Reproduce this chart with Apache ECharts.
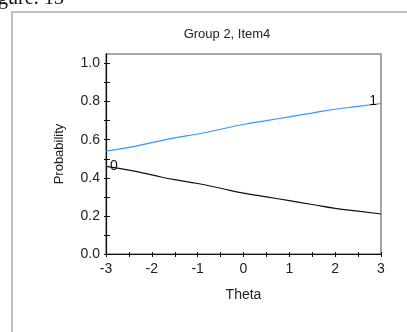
<!DOCTYPE html>
<html>
<head>
<meta charset="utf-8">
<script src="https://cdn.jsdelivr.net/npm/echarts@6/dist/echarts.min.js"></script>
<style>
  html, body { margin: 0; padding: 0; background: #fff; }
  #chart { width: 407px; height: 332px; }
</style>
</head>
<body>
<div id="chart"></div>
<script>
// Item characteristic curves: probability of each response category vs. theta
const theta = [-3, -2.5, -2, -1.5, -1, -0.5, 0, 0.5, 1, 1.5, 2, 2.5, 3];
const category1 = [0.54, 0.56, 0.585, 0.61, 0.63, 0.655, 0.68, 0.70, 0.72, 0.74, 0.76, 0.775, 0.79];
const category0 = [0.46, 0.44, 0.415, 0.39, 0.37, 0.345, 0.32, 0.30, 0.28, 0.26, 0.24, 0.225, 0.21];
const xTicks = [-3, -2.5, -2, -1.5, -1, -0.5, 0, 0.5, 1, 1.5, 2, 2.5, 3];
const xLabels = [-3, -2, -1, 0, 1, 2, 3];
const yTicks = [0, 0.1, 0.2, 0.3, 0.4, 0.5, 0.6, 0.7, 0.8, 0.9, 1.0];
const yLabels = [0, 0.2, 0.4, 0.6, 0.8, 1.0];

const font = 'Liberation Sans, Arial, sans-serif';
const chart = echarts.init(document.getElementById('chart'), null, { renderer: 'canvas' });

const pairs = (ys) => theta.map((t, i) => [t, ys[i]]);

const xBase = { type: 'value', min: -3, max: 3, gridIndex: 0, position: 'bottom' };
const yBase = { type: 'value', min: 0, max: 1.05, gridIndex: 0, position: 'left' };

chart.setOption({
  animation: false,
  backgroundColor: '#fff',
  title: {
    text: 'Group 2, Item4',
    left: 222, top: 23,
    textAlign: 'center',
    textStyle: { fontFamily: font, fontSize: 13, fontWeight: 'normal', color: '#222' }
  },
  grid: {
    left: 106, right: 26, top: 54, bottom: 78,
    show: true, borderColor: '#888', borderWidth: 1.5, backgroundColor: 'transparent'
  },
  xAxis: [
    Object.assign({}, xBase, {
      name: 'Theta', nameLocation: 'middle', nameGap: 34,
      nameTextStyle: { fontFamily: font, fontSize: 14, color: '#222' },
      axisLine: { show: true, onZero: false, lineStyle: { color: '#111', width: 1.2 } },
      axisTick: { show: true, inside: false, length: 3, customValues: xTicks, lineStyle: { color: '#111' } },
      axisLabel: { customValues: xLabels, margin: 8, fontFamily: font, fontSize: 14, color: '#222' },
      splitLine: { show: false }
    }),
    Object.assign({}, xBase, {
      axisLine: { show: false, onZero: false },
      axisTick: { show: true, inside: true, length: 2, customValues: xTicks, lineStyle: { color: '#111' } },
      axisLabel: { show: false },
      splitLine: { show: false }
    })
  ],
  yAxis: [
    Object.assign({}, yBase, {
      name: 'Probability', nameLocation: 'middle', nameGap: 40, nameRotate: 90,
      nameTextStyle: { fontFamily: font, fontSize: 13, color: '#222' },
      axisLine: { show: true, onZero: false, lineStyle: { color: '#111', width: 1.2 } },
      axisTick: { show: true, inside: false, length: 2, customValues: yTicks, lineStyle: { color: '#111' } },
      axisLabel: {
        customValues: yLabels, margin: 6, fontFamily: font, fontSize: 14, color: '#222',
        formatter: (v) => v.toFixed(1)
      },
      splitLine: { show: false }
    }),
    Object.assign({}, yBase, {
      axisLine: { show: false, onZero: false },
      axisTick: { show: true, inside: true, length: 4, customValues: yTicks, lineStyle: { color: '#111' } },
      axisLabel: { show: false },
      splitLine: { show: false }
    })
  ],
  series: [
    {
      type: 'line', name: '1', data: pairs(category1),
      xAxisIndex: 0, yAxisIndex: 0,
      smooth: true, showSymbol: false, symbol: 'none',
      lineStyle: { color: '#3399ff', width: 1.2 },
      markPoint: {
        symbol: 'circle', symbolSize: 0,
        data: [{ coord: [theta[theta.length - 1], category1[category1.length - 1]] }],
        label: {
          show: true, formatter: '1', position: 'left', distance: 4, offset: [0, -2],
          fontFamily: font, fontSize: 14, color: '#111'
        }
      }
    },
    {
      type: 'line', name: '0', data: pairs(category0),
      xAxisIndex: 0, yAxisIndex: 0,
      smooth: true, showSymbol: false, symbol: 'none',
      lineStyle: { color: '#111', width: 1.2 },
      markPoint: {
        symbol: 'circle', symbolSize: 0,
        data: [{ coord: [theta[0], category0[0]] }],
        label: {
          show: true, formatter: '0', position: 'right', distance: 4, offset: [0, 0],
          fontFamily: font, fontSize: 14, color: '#111'
        }
      }
    }
  ],
  graphic: [
    {
      type: 'rect', silent: true, z: -1,
      shape: { x: 12, y: 12, width: 420, height: 340 },
      style: { fill: 'none', stroke: '#aaa', lineWidth: 1.5 }
    },
    {
      type: 'text', silent: true, left: -2, top: -11,
      style: { text: 'gure: 13', font: '20px "Liberation Serif", serif', fill: '#111' }
    }
  ]
});
</script>
</body>
</html>
